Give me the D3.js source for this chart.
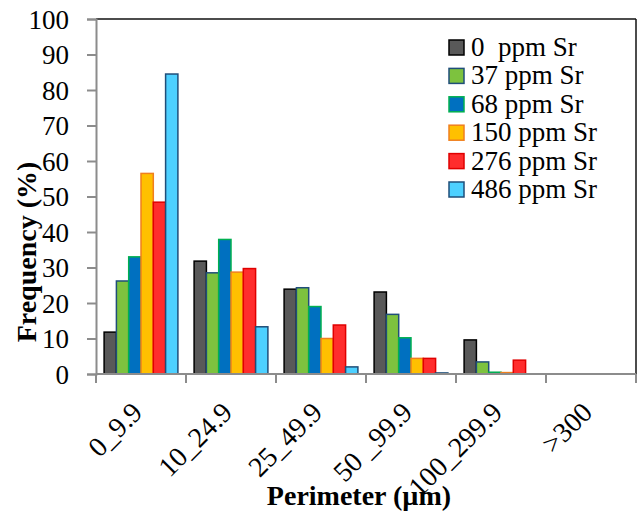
<!DOCTYPE html>
<html>
<head>
<meta charset="utf-8">
<script src="https://cdn.jsdelivr.net/npm/d3@7"></script>
<style>
  body { margin: 0; background: #fff; }
  svg text { font-family: "Liberation Serif", "Times New Roman", serif !important; }
</style>
</head>
<body>
<svg id="vis" width="639" height="512"></svg>
<script>
(function() {
  // chart data
  var categories = ["0_9.9", "10_24.9", "25_49.9", "50 _99.9", "100_299.9", ">300"];
  var seriesNames = ["0  ppm Sr", "37 ppm Sr", "68 ppm Sr", "150 ppm Sr", "276 ppm Sr", "486 ppm Sr"];
  var sr0   = [11.8, 31.8, 23.9, 23.1, 9.6, 0];
  var sr37  = [26.2, 28.5, 24.3, 16.8, 3.4, 0];
  var sr68  = [33.0, 37.9, 19.0, 10.2, 0.5, 0];
  var sr150 = [56.5, 28.7, 10.0, 4.4, 0.4, 0];
  var sr276 = [48.4, 29.7, 13.8, 4.4, 3.9, 0];
  var sr486 = [84.5, 13.3, 2.0, 0.3, 0, 0];
  var yTicks = [0, 10, 20, 30, 40, 50, 60, 70, 80, 90, 100];

  var seriesValues = [sr0, sr37, sr68, sr150, sr276, sr486];
  var fills   = ["#595959", "#7dc23e", "#0070c0", "#ffc000", "#ff2d2d", "#4dd0ff"];
  var strokes = ["#000000", "#1f4e79", "#00b050", "#f07f1e", "#e00000", "#1f4e79"];

  var serif = "Liberation Serif";

  var left = 96, right = 636, plotTop = 19, plotBottom = 374;

  var chart = d3.select("#vis");

  var x0 = d3.scaleBand()
    .domain(categories)
    .range([left, right])
    .paddingInner(0.18)
    .paddingOuter(0.09);

  var x1 = d3.scaleBand()
    .domain(d3.range(seriesNames.length))
    .range([0, x0.bandwidth()]);

  var y = d3.scaleLinear()
    .domain([0, 100])
    .range([plotBottom, plotTop]);

  // frame: top and right in black
  chart.append("line")
    .attr("x1", left).attr("x2", right)
    .attr("y1", plotTop).attr("y2", plotTop)
    .attr("stroke", "#111").attr("stroke-width", 1.5);
  chart.append("line")
    .attr("x1", right).attr("x2", right)
    .attr("y1", plotTop).attr("y2", plotBottom)
    .attr("stroke", "#111").attr("stroke-width", 1.5);

  // bars
  var rows = categories.map(function(c, i) {
    return seriesValues.map(function(s, j) {
      return { cat: c, k: j, v: s[i] };
    });
  });

  chart.append("g").selectAll("g")
    .data(rows)
    .enter()
    .append("g")
    .attr("transform", function(d) { return "translate(" + x0(d[0].cat) + ",0)"; })
    .selectAll("rect")
    .data(function(d) { return d; })
    .enter()
    .append("rect")
    .attr("x", function(d) { return x1(d.k); })
    .attr("width", x1.bandwidth())
    .attr("y", function(d) { return y(d.v); })
    .attr("height", function(d) { return y(0) - y(d.v); })
    .attr("fill", function(d) { return fills[d.k]; })
    .attr("stroke", function(d) { return strokes[d.k]; })
    .attr("stroke-width", 1.5);

  // y axis
  var yAxis = d3.axisLeft(y)
    .tickValues(yTicks)
    .tickSize(9)
    .tickPadding(18);

  var gy = chart.append("g")
    .attr("transform", "translate(" + left + ",0)")
    .call(yAxis)
    .attr("font-family", serif);
  gy.select(".domain").attr("stroke", "#8c8c8c").attr("stroke-width", 2);
  gy.selectAll(".tick line").attr("stroke", "#8c8c8c").attr("stroke-width", 2);
  gy.selectAll(".tick text")
    .attr("font-family", serif)
    .attr("font-size", 27)
    .attr("dy", "0.35em")
    .attr("fill", "#000");

  // x axis line and boundary ticks
  var gx = chart.append("g");
  gx.append("line")
    .attr("x1", left).attr("x2", right)
    .attr("y1", plotBottom).attr("y2", plotBottom)
    .attr("stroke", "#8c8c8c").attr("stroke-width", 2);
  var bounds = d3.range(categories.length + 1).map(function(i) {
    return left + i * x0.step();
  });
  gx.selectAll(".bt")
    .data(bounds)
    .enter()
    .append("line")
    .attr("x1", function(d) { return d; })
    .attr("x2", function(d) { return d; })
    .attr("y1", plotBottom)
    .attr("y2", plotBottom + 9)
    .attr("stroke", "#8c8c8c").attr("stroke-width", 2);

  gx.selectAll(".xl")
    .data(categories)
    .enter()
    .append("text")
    .attr("transform", function(d) {
      return "translate(" + (x0(d) + x0.bandwidth() / 2 + 3) + ",414) rotate(-45)";
    })
    .attr("text-anchor", "end")
    .attr("font-family", serif)
    .attr("font-size", 28)
    .style("white-space", "pre")
    .text(function(d) { return d; });

  // axis titles
  chart.append("text")
    .attr("transform", "translate(36,252) rotate(-90)")
    .attr("text-anchor", "middle")
    .attr("font-family", serif)
    .attr("font-size", 28)
    .attr("font-weight", "bold")
    .text("Frequency (%)");

  chart.append("text")
    .attr("x", 359)
    .attr("y", 505)
    .attr("text-anchor", "middle")
    .attr("font-family", serif)
    .attr("font-size", 28)
    .attr("font-weight", "bold")
    .text("Perimeter (\u00b5m)");

  // legend
  var legend = chart.append("g").selectAll("g")
    .data(seriesNames)
    .enter()
    .append("g")
    .attr("transform", function(d, i) { return "translate(449," + (40 + i * 28.4) + ")"; });

  legend.append("rect")
    .attr("width", 15)
    .attr("height", 15)
    .attr("fill", function(d, i) { return fills[i]; })
    .attr("stroke", function(d, i) { return strokes[i]; })
    .attr("stroke-width", 1.5);

  legend.append("text")
    .attr("x", 22)
    .attr("y", 16)
    .attr("font-family", serif)
    .attr("font-size", 27)
    .style("white-space", "pre")
    .text(function(d) { return d; });
}());
</script>
</body>
</html>
